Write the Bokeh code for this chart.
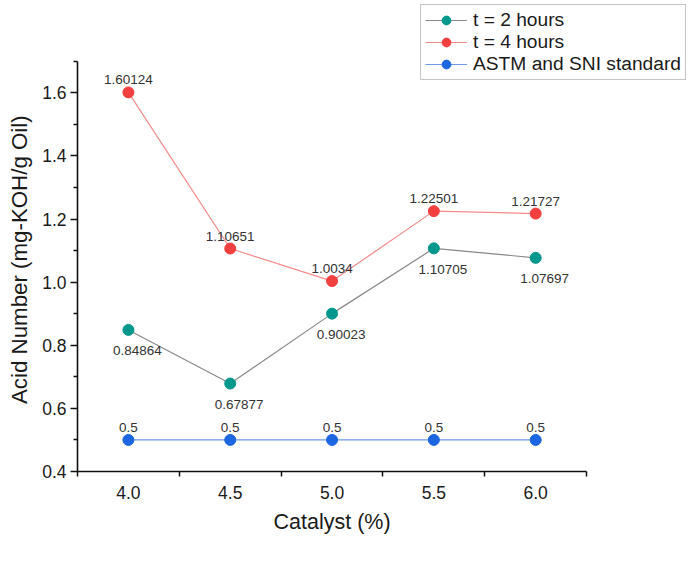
from bokeh.plotting import figure
from bokeh.models import ColumnDataSource, Legend, LegendItem, FixedTicker, Range1d, Title
from bokeh.core.properties import value
from bokeh.embed import file_html
from bokeh.resources import INLINE

catalyst = [4.0, 4.5, 5.0, 5.5, 6.0]
acid_2h = [0.84864, 0.67877, 0.90023, 1.10705, 1.07697]
acid_4h = [1.60124, 1.10651, 1.0034, 1.22501, 1.21727]
standard = [0.5, 0.5, 0.5, 0.5, 0.5]
labels_2h = ["0.84864", "0.67877", "0.90023", "1.10705", "1.07697"]
labels_4h = ["1.60124", "1.10651", "1.0034", "1.22501", "1.21727"]
labels_std = ["0.5", "0.5", "0.5", "0.5", "0.5"]
x_ticks = [4.0, 4.5, 5.0, 5.5, 6.0]
x_minor = [3.75, 4.25, 4.75, 5.25, 5.75, 6.25]
y_ticks = [0.4, 0.6, 0.8, 1.0, 1.2, 1.4, 1.6]
y_minor = [0.5, 0.7, 0.9, 1.1, 1.3, 1.5, 1.7]
x_axis_span = (3.75, 6.25)
y_axis_span = (0.4, 1.7)

FONT = "Liberation Sans"

# frame extends to the top/right edges so that the legend (inside the frame) is not clipped;
# the visible axes are limited to their spans with bounds
p = figure(width=688, height=556, output_backend="svg", toolbar_location=None,
           x_range=Range1d(3.75, 6.7505), y_range=Range1d(0.4, 1.8924),
           min_border_left=75, min_border_right=0, min_border_top=0, min_border_bottom=85)
p.outline_line_color = None
p.xgrid.visible = False
p.ygrid.visible = False
p.background_fill_color = "white"
p.border_fill_color = "white"

s2 = ColumnDataSource(dict(x=catalyst, y=acid_2h, t=labels_2h))
s4 = ColumnDataSource(dict(x=catalyst, y=acid_4h, t=labels_4h))
ss = ColumnDataSource(dict(x=catalyst, y=standard, t=labels_std))

teal = "#00978C"
red = "#F23F3F"
blue = "#1C66E2"

l2 = p.line("x", "y", source=s2, line_color="#8A8A8A", line_width=1.2)
m2 = p.scatter("x", "y", source=s2, size=11, fill_color=teal, line_color=teal)
l4 = p.line("x", "y", source=s4, line_color="#F58A8A", line_width=1.2)
m4 = p.scatter("x", "y", source=s4, size=11, fill_color=red, line_color=red)
ls = p.line("x", "y", source=ss, line_color="#6C9BEA", line_width=1.2)
ms = p.scatter("x", "y", source=ss, size=11, fill_color=blue, line_color=blue)

tk = dict(text_font=value(FONT), text_font_size="13.5px", text_color="#333333",
          text_align="center", text_baseline="middle")
p.text("x", "y", text="t", source=s2, x_offset=9, y_offset=21, **tk)
p.text("x", "y", text="t", source=s4, x_offset=0, y_offset=-12.5, **tk)
p.text("x", "y", text="t", source=ss, x_offset=0, y_offset=-12.5, **tk)

# axes
for ax in (p.xaxis[0], p.yaxis[0]):
    ax.axis_line_color = "#111111"
    ax.axis_line_width = 1.6
    ax.major_label_text_font = FONT
    ax.major_label_text_font_size = "17.5px"
    ax.major_label_text_color = "#1a1a1a"
    ax.major_tick_in = 0
    ax.minor_tick_in = 0
    ax.major_tick_line_color = "#111111"
    ax.minor_tick_line_color = "#111111"
    ax.major_tick_line_width = 1.5
    ax.minor_tick_line_width = 1.5
    ax.major_label_standoff = 4

p.xaxis[0].bounds = x_axis_span
p.xaxis[0].ticker = FixedTicker(ticks=x_ticks, minor_ticks=x_minor)
p.xaxis[0].major_label_overrides = {v: f"{v:.1f}" for v in x_ticks}
p.xaxis[0].major_tick_line_color = None
p.xaxis[0].major_tick_out = 7
p.xaxis[0].minor_tick_out = 5
p.xaxis[0].major_label_standoff = 7

p.yaxis[0].bounds = y_axis_span
p.yaxis[0].ticker = FixedTicker(ticks=y_ticks, minor_ticks=y_minor)
p.yaxis[0].major_label_overrides = {v: f"{v:.1f}" for v in y_ticks}
p.yaxis[0].major_tick_out = 7
p.yaxis[0].minor_tick_out = 4

# axis titles, centred on the axis spans
xt = Title(text="Catalyst (%)", align="left", offset=196, standoff=14,
           vertical_align="middle",
           text_font=FONT, text_font_size="21.5px", text_font_style="normal",
           text_color="#1a1a1a")
yt = Title(text="Acid Number (mg-KOH/g Oil)", align="left", offset=67.5, standoff=12,
           vertical_align="top",
           text_font=FONT, text_font_size="22.3px", text_font_style="normal",
           text_color="#1a1a1a")
p.add_layout(xt, "below")
p.add_layout(yt, "left")

legend = Legend(items=[
    LegendItem(label="t = 2 hours", renderers=[l2, m2]),
    LegendItem(label="t = 4 hours", renderers=[l4, m4]),
    LegendItem(label="ASTM and SNI standard", renderers=[ls, ms]),
], location=(343, 391))
legend.label_text_font = FONT
legend.label_text_font_size = "19.2px"
legend.label_text_color = "#1a1a1a"
legend.label_height = 22
legend.glyph_height = 22
legend.glyph_width = 42
legend.label_standoff = 6
legend.spacing = 0
legend.padding = 4
legend.margin = 0
legend.border_line_color = "#8C8C8C"
legend.border_line_width = 1.2
legend.background_fill_color = "white"
legend.background_fill_alpha = 1.0
p.add_layout(legend, "center")

open("out.html", "w").write(file_html(p, INLINE))
